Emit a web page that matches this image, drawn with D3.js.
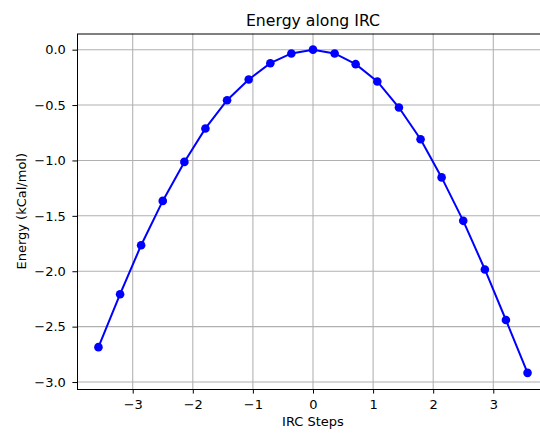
<!DOCTYPE html>
<html>
<head>
<meta charset="utf-8">
<script src="https://cdn.jsdelivr.net/npm/d3@7/dist/d3.min.js"></script>
<style>
  html, body { margin: 0; padding: 0; background: #fff; }
  svg { display: block; font-family: "DejaVu Sans", sans-serif; }
</style>
</head>
<body>
<svg id="chart" width="540" height="433"></svg>
<script>
// IRC step coordinates
const ircSteps = [-3.57, -3.21, -2.86, -2.50, -2.14, -1.79, -1.43, -1.07, -0.71, -0.36,
                  0.00, 0.36, 0.71, 1.07, 1.43, 1.79, 2.14, 2.50, 2.86, 3.21, 3.57];
// Relative energy at each step (kCal/mol)
const energies = [-2.685, -2.207, -1.765, -1.365, -1.013, -0.711, -0.456, -0.269, -0.122, -0.034,
                  0.000, -0.034, -0.131, -0.287, -0.522, -0.808, -1.153, -1.545, -1.984, -2.440, -2.917];
const xTicks = [-3, -2, -1, 0, 1, 2, 3];
const yTicks = [0.0, -0.5, -1.0, -1.5, -2.0, -2.5, -3.0];

const titleText = "Energy along IRC";
const xLabel = "IRC Steps";
const yLabel = "Energy (kCal/mol)";

const svg = d3.select("#chart");
const plot = { left: 77, right: 549, top: 33.5, bottom: 389 };

// 5% padding around the data extent on both axes
const xExt = d3.extent(ircSteps), yExt = d3.extent(energies);
const xPad = (xExt[1] - xExt[0]) * 0.05, yPad = (yExt[1] - yExt[0]) * 0.05;
const x = d3.scaleLinear().domain([xExt[0] - xPad, xExt[1] + xPad]).range([plot.left, plot.right]);
const y = d3.scaleLinear().domain([yExt[0] - yPad, yExt[1] + yPad]).range([plot.bottom, plot.top]);

// grid
const grid = svg.append("g").attr("stroke", "#b0b0b0").attr("stroke-width", 1.05);
grid.selectAll("line.gx").data(xTicks).join("line")
  .attr("x1", d => x(d)).attr("x2", d => x(d))
  .attr("y1", plot.top).attr("y2", plot.bottom);
grid.selectAll("line.gy").data(yTicks).join("line")
  .attr("y1", d => y(d)).attr("y2", d => y(d))
  .attr("x1", plot.left).attr("x2", plot.right);

// line + markers
const line = d3.line().x((d, i) => x(ircSteps[i])).y(d => y(d));
svg.append("path").datum(energies)
  .attr("d", line).attr("fill", "none").attr("stroke", "#0000ff").attr("stroke-width", 2);
svg.append("g").selectAll("circle").data(energies).join("circle")
  .attr("cx", (d, i) => x(ircSteps[i])).attr("cy", d => y(d)).attr("r", 4.3).attr("fill", "#0000ff");

// axes
const fmtY = d3.format(".1f");
const xAxis = d3.axisBottom(x).tickValues(xTicks).tickSize(4.6).tickPadding(6.2).tickFormat(d3.format("d"));
const yAxis = d3.axisLeft(y).tickValues(yTicks).tickSize(4.6).tickPadding(6.5).tickFormat(fmtY);
const gx = svg.append("g").attr("transform", `translate(0,${plot.bottom})`).call(xAxis);
const gy = svg.append("g").attr("transform", `translate(${plot.left},0)`).call(yAxis);
[gx, gy].forEach(g => {
  g.select(".domain").remove();
  g.selectAll("text").attr("font-size", 13).attr("fill", "#000").attr("font-family", "DejaVu Sans");
  g.selectAll("line").attr("stroke", "#000").attr("stroke-width", 1);
});

// frame
svg.append("rect").attr("x", plot.left + 0.5).attr("y", plot.top + 0.5)
  .attr("width", plot.right - plot.left).attr("height", plot.bottom - plot.top)
  .attr("fill", "none").attr("stroke", "#000").attr("stroke-width", 1);

// titles
svg.append("text").attr("x", (plot.left + plot.right) / 2).attr("y", 26)
  .attr("text-anchor", "middle").attr("font-size", 15.7).attr("fill", "#000").text(titleText);
svg.append("text").attr("x", (plot.left + plot.right) / 2).attr("y", 426)
  .attr("text-anchor", "middle").attr("font-size", 13).attr("fill", "#000").text(xLabel);
svg.append("text").attr("transform", `translate(25.5,${(plot.top + plot.bottom) / 2}) rotate(-90)`)
  .attr("text-anchor", "middle").attr("font-size", 13).attr("fill", "#000").text(yLabel);
</script>
</body>
</html>
